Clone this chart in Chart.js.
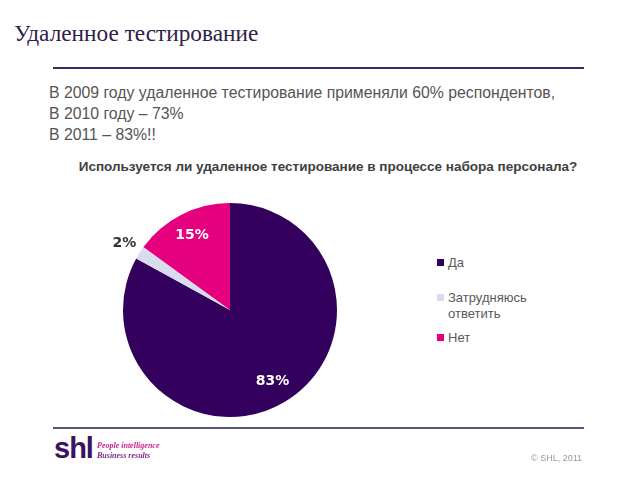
<!DOCTYPE html>
<html lang="ru">
<head>
    <meta charset="UTF-8">
    <title>Удаленное тестирование</title>
    <script src="https://cdn.jsdelivr.net/npm/chart.js"></script>
    <style>
        body { margin: 0; width: 640px; height: 480px; background: #fff; position: relative; overflow: hidden; font-family: "Liberation Sans", Arial, sans-serif; }
        .title { position: absolute; left: 14px; top: 20px; font-family: "Liberation Serif", serif; font-size: 23.3px; color: #2f2248; }
        .rule { position: absolute; left: 53px; width: 531px; height: 2px; background: #3b2a66; }
        .intro { position: absolute; left: 49px; top: 82px; font-size: 15.8px; line-height: 21px; color: #555; }
        .question { position: absolute; left: 0; width: 656px; top: 159px; text-align: center; font-weight: bold; font-size: 13.5px; color: #404040; }
        #pieWrap { position: absolute; left: 100px; top: 190px; width: 260px; height: 240px; }
        .legend { position: absolute; left: 437px; top: 255px; font-size: 13px; color: #595959; }
        .legend div { position: relative; padding-left: 11px; line-height: 16px; }
        .legend span.box { position: absolute; left: 0; top: 4px; width: 7px; height: 7px; }
        .logo { position: absolute; left: 54px; top: 432px; font-weight: bold; font-size: 29px; color: #3a1361; letter-spacing: -1px; }
        .tag { position: absolute; left: 97px; top: 441px; font-family: "Liberation Serif", serif; font-style: italic; font-weight: bold; font-size: 8px; line-height: 10px; }
        .copy { position: absolute; left: 531px; top: 453px; font-size: 9px; color: #999; }
    </style>
</head>
<body>
    <div class="title">Удаленное тестирование</div>
    <div class="rule" style="top: 67px;"></div>
    <div class="intro">
        В 2009 году удаленное тестирование применяли 60% респондентов,<br>
        В 2010 году – 73%<br>
        В 2011 – 83%!!
    </div>
    <div class="question">Используется ли удаленное тестирование в процессе набора персонала?</div>

    <div id="pieWrap"><canvas id="chartPie" width="260" height="240"></canvas></div>
    <div class="legend" id="legend"></div>

    <div class="rule" style="top: 427px; background: #55557a;"></div>
    <div class="logo">shl</div>
    <div class="tag"><span style="color:#d0218f">People intelligence</span><br><span style="color:#7a2a8a">Business results</span></div>
    <div class="copy">© SHL, 2011</div>

    <script>
        // данные диаграммы
        const labels = ['Да', 'Затрудняюсь\nответить', 'Нет'];
        const values = [83, 2, 15];
        const colors = ['#33005e', '#d8dcee', '#e5007d'];

        // легенда справа, строится из тех же массивов
        const legendGaps = [0, 19, 8];
        const legendEl = document.getElementById('legend');
        labels.forEach((lab, i) => {
            const row = document.createElement('div');
            row.style.marginTop = legendGaps[i] + 'px';
            row.innerHTML = '<span class="box" style="background:' + colors[i] + '"></span>' + lab.replace('\n', '<br>');
            legendEl.appendChild(row);
        });

        // подписи процентов на секторах
        const pctLabels = {
            id: 'pctLabels',
            afterDatasetsDraw(chart) {
                const ctx = chart.ctx;
                const meta = chart.getDatasetMeta(0);
                const total = values.reduce((a, b) => a + b, 0);
                meta.data.forEach((arc, i) => {
                    const mid = (arc.startAngle + arc.endAngle) / 2;
                    const outside = values[i] < 5;
                    const r = outside ? arc.outerRadius * 1.17 : arc.outerRadius * 0.78;
                    const x = arc.x + Math.cos(mid) * r;
                    const y = arc.y + Math.sin(mid) * r;
                    ctx.save();
                    ctx.font = 'bold 14px "DejaVu Sans", sans-serif';
                    ctx.fillStyle = outside ? '#333' : '#fff';
                    ctx.textAlign = 'center';
                    ctx.textBaseline = 'middle';
                    ctx.fillText(Math.round(values[i] / total * 100) + '%', x, y);
                    ctx.restore();
                });
            }
        };

        new Chart(document.getElementById('chartPie'), {
            type: 'pie',
            data: {
                labels: labels,
                datasets: [{
                    data: values,
                    backgroundColor: colors,
                    borderWidth: 0
                }]
            },
            options: {
                responsive: false,
                animation: false,
                layout: { padding: { left: 23, right: 23, top: 13, bottom: 13 } },
                plugins: {
                    legend: { display: false },
                    tooltip: { enabled: false }
                }
            },
            plugins: [pctLabels]
        });
    </script>
</body>
</html>
